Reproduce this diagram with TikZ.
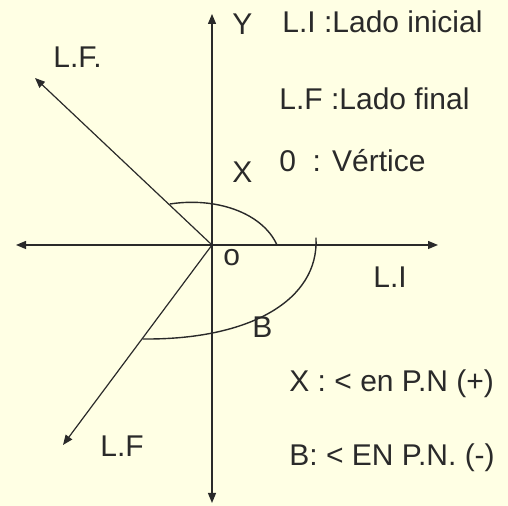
\documentclass[tikz,border=0pt]{standalone}
\usepackage{fontspec}
\setmainfont{Liberation Sans}
\usepackage{tikz}
\usetikzlibrary{arrows.meta}
\usepackage{xcolor}
\definecolor{papel}{HTML}{FFFFE4}
\definecolor{tinta}{HTML}{2A2A2A}

\begin{document}
\begin{tikzpicture}[x=0.5pt,y=0.5pt,>={Triangle[length=5pt,width=4pt]},
  line cap=round,
  eje/.style={draw=tinta,line width=0.6pt,->},
  arco/.style={draw=tinta,line width=0.7pt},
  rotulo/.style={anchor=base west,inner sep=0pt,text=tinta,
    font=\fontsize{15pt}{18pt}\selectfont}]
\fill[papel] (0,0) rectangle (508,506);
\useasboundingbox (0,0) rectangle (508,506);
% ejes y lados
\coordinate (O) at (212,261);
\coordinate (xizq) at (16,261);
\coordinate (xder) at (438,261);
\coordinate (yarr) at (212,492);
\coordinate (yabj) at (212,3);
\coordinate (lfsup) at (35,428);
\coordinate (lfinf) at (63,61);
\draw[eje] (O) -- (xizq);
\draw[eje] (O) -- (xder);
\draw[eje] (O) -- (yarr);
\draw[eje] (O) -- (yabj);
\draw[eje] (O) -- (lfsup);
\draw[eje] (O) -- (lfinf);
% angulos X y B
\draw[arco] (170,302) .. controls (215,309) and (262,294) .. (277,261);
\draw[arco] (316,268) .. controls (319,206) and (250,166) .. (143,167);
% textos
\node[rotulo] (ejey) at (232,471) {Y};
\node[rotulo] (lfa) at (53,438) {L.F.};
\node[rotulo] (lfb) at (100,49) {L.F};
\node[rotulo] (li) at (373,218) {L.I};
\node[rotulo] (angx) at (232,323) {X};
\node[rotulo] (angb) at (252,168) {B};
\node[rotulo] (vert) at (223,240) {o};
\node[rotulo] (ley1) at (282,473) {L.I :Lado inicial};
\node[rotulo] (ley2) at (279,396) {L.F :Lado final};
\node[rotulo] (ley3) at (279,334) {0\ \ : Vértice};
\node[rotulo] (ley4) at (289,114) {X : < en P.N (+)};
\node[rotulo] (ley5) at (289,40) {B: < EN P.N. (-)};
\end{tikzpicture}
\end{document}
